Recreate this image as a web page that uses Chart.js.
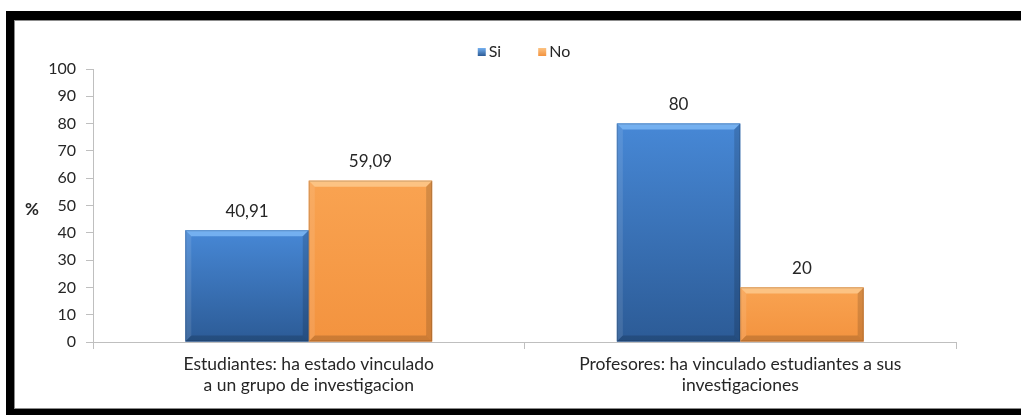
<!doctype html>
<html>

<head>
    <title>Vinculacion</title>
    <script src="https://cdn.jsdelivr.net/npm/chart.js"></script>
</head>

<style>
    body {
        margin: 0;
        background: #fff;
        overflow: hidden;
        width: 1021px;
        height: 415px;
        position: relative;
    }

    .marco {
        position: absolute;
        left: 6px;
        top: 11px;
        width: 1100px;
        height: 389px;
        border: 8px solid #000;
        border-top-width: 9px;
        box-shadow: inset 0 0 0 1px #8c8c8c;
    }

    canvas {
        position: absolute;
        left: 0;
        top: 0;
    }
</style>

<body>
    <div class="marco"></div>
    <canvas id="grafico" width="1021" height="415"></canvas>

    <script>
        // datos
        var categorias = [
            ['Estudiantes: ha estado vinculado', 'a un grupo de investigacion'],
            ['Profesores: ha vinculado estudiantes a sus', 'investigaciones']
        ];
        var valoresSi = [40.91, 80];
        var valoresNo = [59.09, 20];
        var ticksY = [0, 10, 20, 30, 40, 50, 60, 70, 80, 90, 100];

        var fuente = 'Lato, sans-serif';

        var colores = {
            Si: { base: '#3b78c6', arriba: '#4788d6', abajo: '#2c5b96', luz: '#74b0f0' },
            No: { base: '#f79646', arriba: '#f9a351', abajo: '#f3933f', luz: '#fcc383' }
        };

        // relieve de las barras + etiquetas de valor + leyenda + titulo del eje
        var relieve = {
            id: 'relieve',
            afterDatasetsDraw(chart) {
                var ctx = chart.ctx;
                var area = chart.chartArea;
                ctx.save();
                chart.data.datasets.forEach((ds, i) => {
                    var c = colores[ds.label];
                    chart.getDatasetMeta(i).data.forEach((barra, j) => {
                        var p = barra.getProps(['x', 'y', 'base', 'width'], true);
                        var l = p.x - p.width / 2, r = p.x + p.width / 2;
                        var t = p.y, b = p.base;
                        var bv = 6;

                        var g = ctx.createLinearGradient(0, t, 0, b);
                        g.addColorStop(0, c.arriba);
                        g.addColorStop(1, c.abajo);
                        ctx.fillStyle = g;
                        ctx.fillRect(l, t, r - l, b - t);

                        // arriba
                        ctx.fillStyle = c.luz;
                        ctx.beginPath();
                        ctx.moveTo(l, t); ctx.lineTo(r, t); ctx.lineTo(r - bv, t + bv); ctx.lineTo(l + bv, t + bv);
                        ctx.closePath(); ctx.fill();
                        // izquierda
                        ctx.fillStyle = 'rgba(255,255,255,0.10)';
                        ctx.beginPath();
                        ctx.moveTo(l, t); ctx.lineTo(l + bv, t + bv); ctx.lineTo(l + bv, b - bv); ctx.lineTo(l, b);
                        ctx.closePath(); ctx.fill();
                        // derecha
                        ctx.fillStyle = 'rgba(0,0,0,0.14)';
                        ctx.beginPath();
                        ctx.moveTo(r, t); ctx.lineTo(r - bv, t + bv); ctx.lineTo(r - bv, b - bv); ctx.lineTo(r, b);
                        ctx.closePath(); ctx.fill();
                        // abajo
                        ctx.fillStyle = 'rgba(0,0,0,0.16)';
                        ctx.beginPath();
                        ctx.moveTo(l, b); ctx.lineTo(l + bv, b - bv); ctx.lineTo(r - bv, b - bv); ctx.lineTo(r, b);
                        ctx.closePath(); ctx.fill();

                        ctx.strokeStyle = 'rgba(0,0,0,0.15)';
                        ctx.lineWidth = 1;
                        ctx.strokeRect(l + 0.5, t + 0.5, r - l - 1, b - t - 1);

                        // valor
                        ctx.fillStyle = '#262626';
                        ctx.font = '17px ' + fuente;
                        ctx.textAlign = 'center';
                        ctx.textBaseline = 'middle';
                        ctx.fillText(String(ds.data[j]).replace('.', ','), p.x, t - 19);
                    });
                });

                // leyenda
                ctx.font = '16px ' + fuente;
                ctx.textBaseline = 'middle';
                ctx.textAlign = 'left';
                var anchos = chart.data.datasets.map(ds => 12 + ctx.measureText(ds.label).width);
                var sep = 36;
                var total = anchos.reduce((a, w) => a + w, 0) + sep * (anchos.length - 1);
                var x = (area.left + area.right) / 2 - total / 2;
                var yl = area.top - 17;
                chart.data.datasets.forEach((ds, i) => {
                    var c = colores[ds.label];
                    var g = ctx.createLinearGradient(0, yl - 4, 0, yl + 4);
                    g.addColorStop(0, c.luz);
                    g.addColorStop(1, c.abajo);
                    ctx.fillStyle = g;
                    ctx.fillRect(x, yl - 4, 8, 8);
                    ctx.fillStyle = '#262626';
                    ctx.fillText(ds.label, x + 11, yl);
                    x += anchos[i] + sep;
                });

                // titulo del eje
                ctx.font = 'bold 17px ' + fuente;
                ctx.textAlign = 'center';
                ctx.fillText('%', area.left - 61, (area.top + area.bottom) / 2 + 4);
                ctx.restore();
            }
        };

        var grafico = new Chart(document.getElementById('grafico').getContext('2d'), {
            type: 'bar',
            data: {
                labels: categorias,
                datasets: [{
                    label: 'Si',
                    data: valoresSi,
                    backgroundColor: colores.Si.base
                }, {
                    label: 'No',
                    data: valoresNo,
                    backgroundColor: colores.No.base
                }]
            },
            options: {
                responsive: false,
                animation: false,
                layout: {
                    padding: { top: 69, left: 30, right: 0, bottom: 0 }
                },
                datasets: {
                    bar: { categoryPercentage: 0.572, barPercentage: 1 }
                },
                plugins: {
                    legend: { display: false },
                    tooltip: { enabled: false }
                },
                scales: {
                    x: {
                        grid: { drawOnChartArea: false, color: '#bfbfbf', tickLength: 7, offset: true },
                        border: { color: '#bfbfbf' },
                        ticks: {
                            color: '#262626',
                            font: { family: fuente, size: 17.5, lineHeight: 1.2 },
                            maxRotation: 0,
                            padding: 5
                        },
                        afterFit: s => { s.height = 73; }
                    },
                    y: {
                        min: 0,
                        max: 100,
                        afterBuildTicks: s => { s.ticks = ticksY.map(v => ({ value: v })); },
                        grid: { drawOnChartArea: false, color: '#bfbfbf', tickLength: 7 },
                        border: { color: '#bfbfbf' },
                        ticks: {
                            color: '#262626',
                            font: { family: fuente, size: 16 },
                            padding: 10
                        },
                        afterFit: s => { s.width = 63; }
                    },
                    derecha: {
                        position: 'right',
                        min: 0,
                        max: 100,
                        grid: { display: false },
                        border: { display: false },
                        ticks: { display: false },
                        afterFit: s => { s.width = 65; }
                    }
                }
            },
            plugins: [relieve]
        });
    </script>
</body>

</html>
